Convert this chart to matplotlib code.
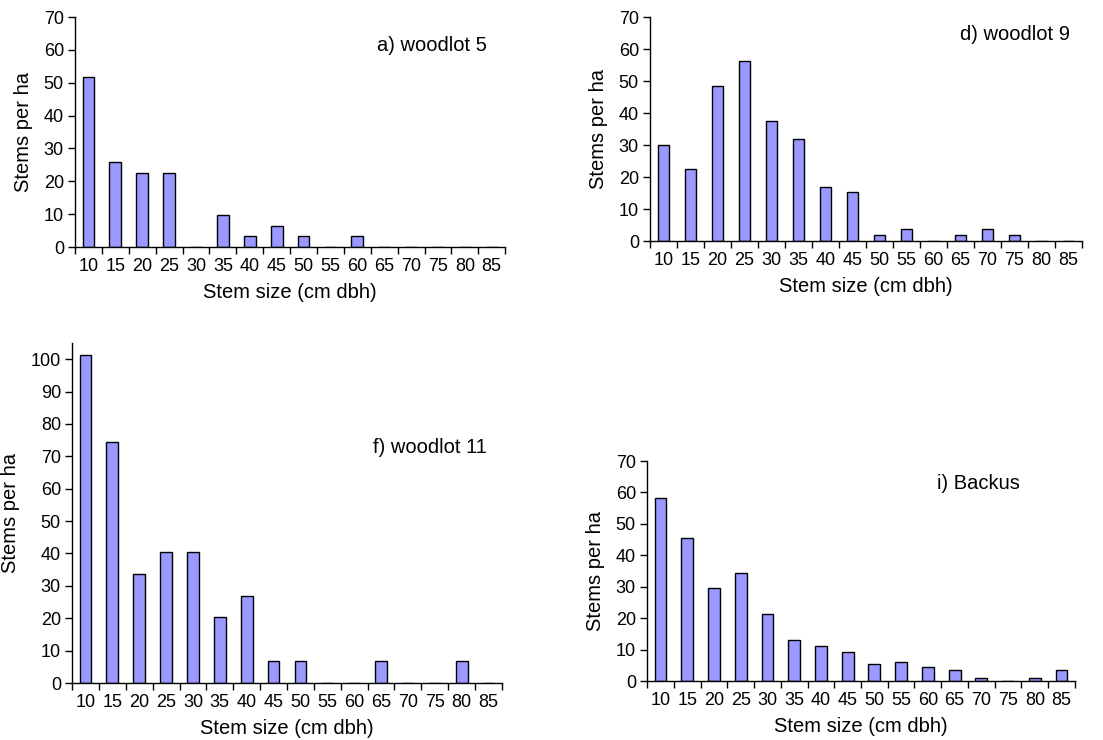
import numpy as np
import matplotlib.pyplot as plt

plt.rcParams['font.family'] = ['Liberation Sans', 'DejaVu Sans']

# stem size classes (cm dbh)
sizes = ['10', '15', '20', '25', '30', '35', '40', '45', '50', '55', '60', '65', '70', '75', '80', '85']

# stems per ha for each stand
woodlot5 = [51.6, 25.8, 22.6, 22.6, 0, 9.7, 3.2, 6.5, 3.2, 0, 3.2, 0, 0, 0, 0, 0]
woodlot9 = [30.0, 22.5, 48.5, 56.2, 37.5, 31.8, 17.0, 15.2, 1.8, 3.6, 0, 1.8, 3.6, 1.8, 0, 0]
woodlot11 = [101.4, 74.3, 33.8, 40.5, 40.5, 20.3, 27.0, 6.8, 6.8, 0, 0, 6.8, 0, 0, 6.8, 0]
backus = [58.3, 45.5, 29.7, 34.4, 21.2, 12.9, 11.0, 9.2, 5.3, 5.9, 4.4, 3.4, 0.9, 0, 0.9, 3.4]

panels = [
    # data, title, axes rect, ylim, yticks, text pos
    (woodlot5, 'a) woodlot 5', [0.0680, 0.6662, 0.3900, 0.3108], 70, np.arange(0, 71, 10), (0.958, 0.878)),
    (woodlot9, 'd) woodlot 9', [0.5893, 0.6743, 0.3917, 0.3027], 70, np.arange(0, 71, 10), (0.972, 0.92)),
    (woodlot11, 'f) woodlot 11', [0.0653, 0.0770, 0.3898, 0.4595], 105, np.arange(0, 101, 10), (0.965, 0.694)),
    (backus, 'i) Backus', [0.5866, 0.0797, 0.3880, 0.2973], 70, np.arange(0, 71, 10), (0.871, 0.90)),
]

fig = plt.figure(figsize=(11.03, 7.4), dpi=100)

for data, title, rect, ymax, yt, tpos in panels:
    ax = fig.add_axes(rect)
    x = np.arange(len(sizes))
    ax.bar(x, data, width=0.44, color='#9999ff', edgecolor='black', linewidth=1.0)
    ax.set_xlim(-0.5, len(sizes) - 0.5)
    ax.set_ylim(0, ymax)
    ax.set_yticks(yt)
    ax.set_xticks(x)
    ax.set_xticklabels(sizes)
    ax.set_xticks(np.arange(-0.5, len(sizes), 1), minor=True)
    ax.tick_params(axis='x', which='major', length=0, labelsize=13, pad=8)
    ax.tick_params(axis='x', which='minor', length=5, width=1.0, direction='out')
    ax.tick_params(axis='y', length=5, width=1.0, labelsize=13, pad=3)
    for s in ['top', 'right']:
        ax.spines[s].set_visible(False)
    for s in ['left', 'bottom']:
        ax.spines[s].set_linewidth(1.0)
    ax.set_xlabel('Stem size (cm dbh)', fontsize=14.5, labelpad=6)
    ax.set_ylabel('Stems per ha', fontsize=14.5, labelpad=8)
    ax.text(tpos[0], tpos[1], title, transform=ax.transAxes, ha='right', va='center', fontsize=14.5)

fig.savefig('out.png', dpi=100)
